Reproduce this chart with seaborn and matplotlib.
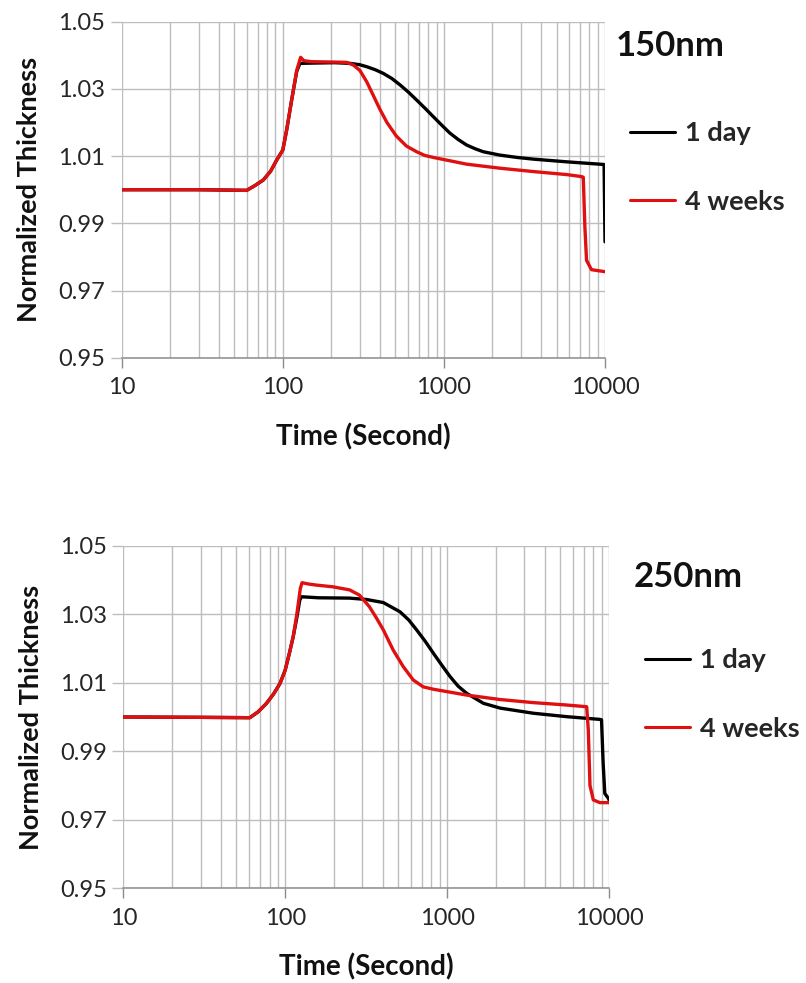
import matplotlib
matplotlib.use("Agg")
import matplotlib.pyplot as plt
from matplotlib.lines import Line2D
from matplotlib.ticker import LogLocator, NullFormatter
import seaborn as sns
import pandas as pd

# ---- data: 150 nm film ----
t150_day = [10, 30, 59.7, 67, 75.7, 84, 91.6, 100, 105.7, 113.5, 122, 127.7, 160, 210, 261,
            300, 332, 375, 421, 475, 534, 600, 677, 765, 861, 970, 1092, 1230, 1384, 1560,
            1755, 2225, 2850, 3589, 4550, 5780, 7550, 9870, 10000]
y150_day = [1.0000, 1.0000, 0.9998, 1.0012, 1.0029, 1.0055, 1.0088, 1.0118, 1.0178, 1.0267,
            1.0352, 1.0376, 1.0377, 1.0378, 1.0376, 1.0372, 1.0366, 1.0357, 1.0346, 1.0331,
            1.0312, 1.0291, 1.0267, 1.0242, 1.0217, 1.0192, 1.0168, 1.0149, 1.0133, 1.0122,
            1.0113, 1.0103, 1.0096, 1.0091, 1.0087, 1.0083, 1.0079, 1.0075, 0.9845]

t150_4wk = [10, 30, 59.7, 67, 75.7, 84, 91.6, 100, 105.7, 113.5, 122, 129, 135, 150, 200,
            249, 274, 301, 332, 365, 400, 443, 506, 585, 677, 760, 861, 1092, 1384, 2225,
            3589, 5780, 7160, 7330, 7500, 7680, 8240, 10000]
y150_4wk = [1.0000, 1.0000, 0.9998, 1.0012, 1.0029, 1.0055, 1.0088, 1.0118, 1.0178, 1.0267,
            1.0355, 1.0394, 1.0384, 1.0381, 1.0380, 1.0379, 1.0371, 1.0355, 1.0321, 1.0280,
            1.0240, 1.0200, 1.0160, 1.0130, 1.0113, 1.0102, 1.0096, 1.0086, 1.0076, 1.0064,
            1.0054, 1.0045, 1.0039, 1.0037, 0.9890, 0.9790, 0.9762, 0.9756]

# ---- data: 250 nm film ----
t250_day = [10, 30, 60.5, 68, 76.7, 85, 92.9, 100, 106, 112, 118, 123, 126, 160, 250, 318,
            404, 512, 580, 649, 735, 823, 925, 1043, 1170, 1322, 1676, 2125, 3405, 5465,
            8780, 8990, 9200, 9420, 9890, 10000]
y250_day = [1.0000, 0.9999, 0.9998, 1.0015, 1.0040, 1.0068, 1.0098, 1.0137, 1.0185, 1.0234,
            1.0290, 1.0341, 1.0351, 1.0348, 1.0347, 1.0343, 1.0334, 1.0307, 1.0283, 1.0254,
            1.0220, 1.0186, 1.0152, 1.0118, 1.0090, 1.0069, 1.0040, 1.0026, 1.0011, 1.0001,
            0.9993, 0.9992, 0.9865, 0.9777, 0.9763, 0.9758]

t250_4wk = [10, 30, 60.5, 68, 76.7, 85, 92.9, 100, 106, 112, 118, 124, 127, 140, 156, 197,
            250, 287, 331, 365, 404, 465, 536, 618, 712, 823, 1322, 2125, 3405, 5465, 7280,
            7450, 7630, 8000, 8780, 10000]
y250_4wk = [1.0000, 0.9999, 0.9998, 1.0015, 1.0040, 1.0068, 1.0098, 1.0137, 1.0185, 1.0234,
            1.0300, 1.0375, 1.0392, 1.0388, 1.0385, 1.0380, 1.0371, 1.0356, 1.0322, 1.0290,
            1.0254, 1.0195, 1.0147, 1.0108, 1.0088, 1.0081, 1.0064, 1.0051, 1.0042, 1.0035,
            1.0030, 0.9962, 0.9800, 0.9758, 0.9750, 0.9750]

series_names = ["1 day", "4 weeks"]
panel_titles = ["150nm", "250nm"]
x_tick_values = [10, 100, 1000, 10000]
x_tick_labels = ["10", "100", "1000", "10000"]
y_tick_values = [0.95, 0.97, 0.99, 1.01, 1.03, 1.05]
y_tick_labels = ["0.95", "0.97", "0.99", "1.01", "1.03", "1.05"]

colors = {"1 day": "#000000", "4 weeks": "#e01010"}
FONT = ["Lato", "DejaVu Sans"]

sns.set_theme(style="white")
plt.rcParams["font.family"] = FONT


def frame(t_day, y_day, t_wk, y_wk):
    a = pd.DataFrame({"t": t_day, "y": y_day, "series": series_names[0]})
    b = pd.DataFrame({"t": t_wk, "y": y_wk, "series": series_names[1]})
    return pd.concat([a, b], ignore_index=True)


fig = plt.figure(figsize=(8.06, 9.83), dpi=100)
ax_positions = [
    [121.7 / 806, 1 - 357.7 / 983, (605 - 121.7) / 806, (357.7 - 21.7) / 983],
    [123.3 / 806, 1 - 888.3 / 983, (609 - 123.3) / 806, (888.3 - 545.7) / 983],
]
datasets = [
    frame(t150_day, y150_day, t150_4wk, y150_4wk),
    frame(t250_day, y250_day, t250_4wk, y250_4wk),
]
# title / legend anchor positions in figure pixels
title_xy = [(616, 46), (634, 577)]
legend_xy = [(630, 133), (645, 660)]

grid_col = "#bdbdbd"
for pos, df, title, (tx, ty), (lx, ly) in zip(ax_positions, datasets, panel_titles, title_xy, legend_xy):
    ax = fig.add_axes(pos)
    sns.lineplot(data=df, x="t", y="y", hue="series", palette=colors, sort=False,
                 estimator=None, linewidth=2.4, legend=False, ax=ax, zorder=3)
    ax.set_xscale("log")
    ax.set_xlim(10, 10000)
    ax.set_ylim(0.95, 1.05)
    ax.set_xticks(x_tick_values, x_tick_labels)
    ax.xaxis.set_minor_locator(LogLocator(base=10, subs=range(2, 10), numticks=20))
    ax.xaxis.set_minor_formatter(NullFormatter())
    ax.set_yticks(y_tick_values, y_tick_labels)

    ax.grid(True, which="major", axis="both", color=grid_col, linewidth=1.0)
    ax.grid(True, which="minor", axis="x", color=grid_col, linewidth=1.0)
    ax.set_axisbelow(True)
    for side in ["top", "right", "left"]:
        ax.spines[side].set_visible(False)
    ax.spines["bottom"].set_color("#8c8c8c")
    ax.spines["bottom"].set_linewidth(1.1)
    ax.tick_params(axis="x", which="major", direction="out", length=7, width=1.0,
                   color="#8c8c8c", labelsize=17, labelcolor="#262626", pad=7, bottom=True)
    ax.tick_params(axis="x", which="minor", length=0)
    ax.tick_params(axis="y", which="major", direction="out", length=8, width=1.0,
                   color=grid_col, labelsize=17, labelcolor="#262626", pad=4, left=True)

    ax.set_xlabel("Time (Second)", fontsize=20, fontweight="bold", labelpad=18, color="#111111")
    ax.set_ylabel("Normalized Thickness", fontsize=19.5, fontweight="bold", labelpad=12, color="#111111")

    fig.text(tx / 806, 1 - ty / 983, title, fontsize=25, fontweight="bold",
             ha="left", va="center", color="#111111")

    handles = [Line2D([], [], color=colors[n], linewidth=2.2) for n in series_names]
    fig.legend(handles, series_names, loc="upper left",
               bbox_to_anchor=(lx / 806, 1 - (ly - 12) / 983),
               frameon=False, prop={"family": FONT, "weight": "bold", "size": 19.5},
               handlelength=1.66, handletextpad=0.37, labelspacing=1.65,
               borderpad=0, borderaxespad=0)

fig.savefig("out.png", dpi=100)
